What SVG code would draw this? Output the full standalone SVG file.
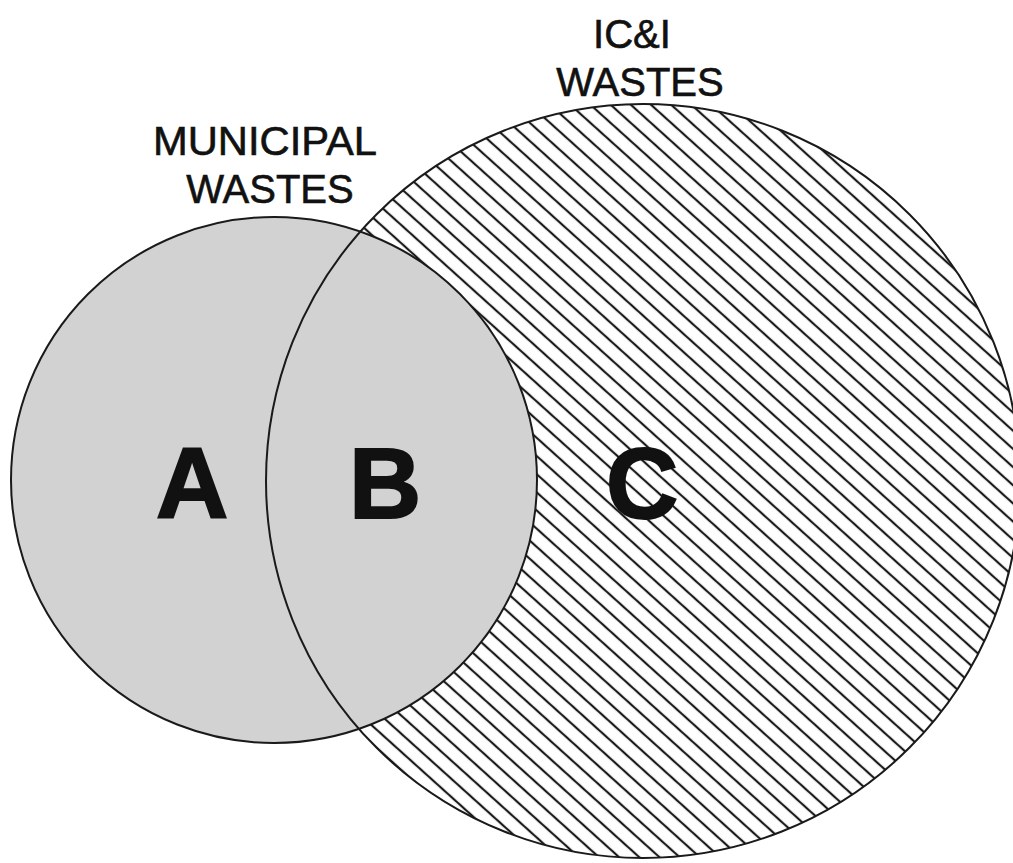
<svg xmlns="http://www.w3.org/2000/svg" width="1013" height="863" viewBox="0 0 1013 863">
  <style>
    .label { font-family: "Liberation Sans", Arial, sans-serif; font-size: 40px; fill: #111; stroke: #111; stroke-width: 0.6; text-anchor: middle; }
    .big { font-family: "Liberation Sans", Arial, sans-serif; font-size: 100px; font-weight: bold; fill: #111; stroke: #111; stroke-width: 2; text-anchor: middle; }
    .outline { fill: none; stroke: #1a1a1a; stroke-width: 2; }
  </style>
  <defs>
    <pattern id="hatch" patternUnits="userSpaceOnUse" width="13.5" height="13.5" patternTransform="rotate(42)">
      <line x1="-2" y1="6.75" x2="15.5" y2="6.75" stroke="#1a1a1a" stroke-width="2.2"/>
    </pattern>
  </defs>
  <rect width="1013" height="863" fill="#ffffff"/>
  <g id="icni-circle">
    <circle cx="643" cy="481" r="377" fill="#ffffff"/>
    <circle cx="643" cy="481" r="377" fill="url(#hatch)"/>
  </g>
  <g id="municipal-circle">
    <circle cx="274" cy="480" r="263" fill="#d2d2d2"/>
  </g>
  <g id="outlines">
    <circle cx="643" cy="481" r="377" class="outline"/>
    <circle cx="274" cy="480" r="263" class="outline"/>
  </g>
  <g id="label-municipal">
    <text class="label" x="265" y="155" textLength="224" lengthAdjust="spacingAndGlyphs">MUNICIPAL</text>
    <text class="label" x="270" y="203">WASTES</text>
  </g>
  <g id="label-ici">
    <text class="label" x="632" y="48">IC&amp;I</text>
    <text class="label" x="640" y="96">WASTES</text>
  </g>
  <g id="region-a"><text class="big" x="192" y="518">A</text></g>
  <g id="region-b"><text class="big" x="385" y="518">B</text></g>
  <g id="region-c"><text class="big" x="642" y="518">C</text></g>
</svg>
